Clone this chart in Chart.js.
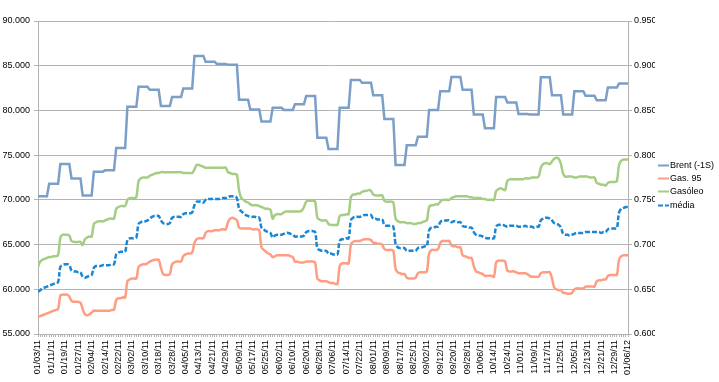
<!DOCTYPE html>
<html>
<head>
<meta charset="utf-8">
<script src="https://cdn.jsdelivr.net/npm/chart.js@4/dist/chart.umd.min.js"></script>
<style>
  html, body { margin: 0; padding: 0; background: #ffffff; }
  #wrap { width: 719px; height: 382px; }
</style>
</head>
<body>
<div id="wrap"><canvas id="c" width="719" height="382"></canvas></div>
<script>
// Tick labels shown on the x axis (every 6th business day)
const tickLabels = ['01/03/11','01/11/11','01/19/11','01/27/11','02/04/11','02/14/11','02/22/11','03/02/11','03/10/11','03/18/11','03/28/11','04/05/11','04/13/11','04/21/11','04/29/11','05/09/11','05/17/11','05/25/11','06/02/11','06/10/11','06/20/11','06/28/11','07/06/11','07/14/11','07/22/11','08/01/11','08/09/11','08/17/11','08/25/11','09/02/11','09/12/11','09/20/11','09/28/11','10/06/11','10/14/11','10/24/11','11/01/11','11/09/11','11/17/11','11/25/11','12/05/11','12/13/11','12/21/11','12/29/11','01/06/12'];
const labelEvery = 6;

const seriesNames = ['Brent (-1S)', 'Gas. 95', 'Gasóleo', 'média'];

// Daily values (business days), one row per week
const brent = [
70.4,70.4,70.4,70.4,70.4,
71.8,71.8,71.8,71.8,71.8,
74.0,74.0,74.0,74.0,74.0,
72.4,72.4,72.4,72.4,72.4,
70.5,70.5,70.5,70.5,70.5,
73.15,73.15,73.15,73.15,73.15,
73.3,73.3,73.3,73.3,73.3,
75.8,75.8,75.8,75.8,75.8,
80.4,80.4,80.4,80.4,80.4,
82.65,82.65,82.65,82.65,82.65,
82.3,82.3,82.3,82.3,82.3,
80.5,80.5,80.5,80.5,80.5,
81.5,81.5,81.5,81.5,81.5,
82.45,82.45,82.45,82.45,82.45,
86.1,86.1,86.1,86.1,86.1,
85.45,85.45,85.45,85.45,85.45,
85.2,85.2,85.2,85.2,85.2,
85.1,85.1,85.1,85.1,85.1,
81.2,81.2,81.2,81.2,81.2,
80.1,80.1,80.1,80.1,80.1,
78.75,78.75,78.75,78.75,78.75,
80.3,80.3,80.3,80.3,80.3,
80.05,80.05,80.05,80.05,80.05,
80.7,80.7,80.7,80.7,80.7,
81.6,81.6,81.6,81.6,81.6,
76.95,76.95,76.95,76.95,76.95,
75.7,75.7,75.7,75.7,75.7,
80.3,80.3,80.3,80.3,80.3,
83.4,83.4,83.4,83.4,83.4,
83.1,83.1,83.1,83.1,83.1,
81.7,81.7,81.7,81.7,81.7,
79.05,79.05,79.05,79.05,79.05,
73.9,73.9,73.9,73.9,73.9,
76.1,76.1,76.1,76.1,76.1,
77.05,77.05,77.05,77.05,77.05,
80.05,80.05,80.05,80.05,80.05,
82.15,82.15,82.15,82.15,82.15,
83.75,83.75,83.75,83.75,83.75,
82.3,82.3,82.3,82.3,82.3,
79.55,79.55,79.55,79.55,79.55,
78.0,78.0,78.0,78.0,78.0,
81.5,81.5,81.5,81.5,81.5,
80.9,80.9,80.9,80.9,80.9,
79.6,79.6,79.6,79.6,79.6,
79.55,79.55,79.55,79.55,79.55,
83.7,83.7,83.7,83.7,83.7,
81.7,81.7,81.7,81.7,81.7,
79.55,79.55,79.55,79.55,79.55,
82.15,82.15,82.15,82.15,82.15,
81.65,81.65,81.65,81.65,81.65,
81.15,81.15,81.15,81.15,81.15,
82.55,82.55,82.55,82.55,82.55,
83.0,83.0,83.0,83.0,83.0
];

const gas95 = [
0.619,0.620,0.621,0.622,0.623,
0.624,0.625,0.626,0.627,0.628,
0.643,0.644,0.644,0.644,0.642,
0.637,0.636,0.636,0.636,0.635,
0.628,0.622,0.621,0.622,0.624,
0.626,0.626,0.626,0.626,0.626,
0.626,0.626,0.626,0.627,0.627,
0.638,0.640,0.640,0.641,0.641,
0.659,0.661,0.662,0.662,0.662,
0.675,0.677,0.678,0.678,0.679,
0.681,0.682,0.683,0.683,0.683,
0.674,0.667,0.666,0.666,0.667,
0.678,0.680,0.681,0.681,0.681,
0.687,0.689,0.690,0.690,0.691,
0.702,0.706,0.707,0.707,0.707,
0.713,0.715,0.715,0.715,0.716,
0.716,0.716,0.717,0.717,0.717,
0.725,0.729,0.730,0.729,0.727,
0.719,0.718,0.718,0.718,0.718,
0.718,0.717,0.717,0.717,0.716,
0.697,0.694,0.692,0.690,0.689,
0.686,0.687,0.688,0.688,0.688,
0.688,0.688,0.688,0.687,0.686,
0.681,0.681,0.680,0.680,0.680,
0.681,0.681,0.681,0.681,0.680,
0.662,0.660,0.659,0.659,0.659,
0.658,0.657,0.657,0.656,0.656,
0.676,0.679,0.679,0.679,0.679,
0.700,0.703,0.704,0.704,0.704,
0.705,0.706,0.706,0.706,0.705,
0.702,0.702,0.701,0.701,0.700,
0.695,0.694,0.694,0.694,0.693,
0.673,0.669,0.668,0.667,0.667,
0.663,0.662,0.662,0.662,0.663,
0.668,0.669,0.669,0.669,0.670,
0.690,0.694,0.694,0.694,0.695,
0.702,0.704,0.704,0.704,0.704,
0.699,0.698,0.698,0.697,0.697,
0.688,0.687,0.686,0.685,0.685,
0.676,0.670,0.669,0.668,0.667,
0.665,0.665,0.665,0.665,0.664,
0.680,0.682,0.682,0.682,0.681,
0.671,0.670,0.670,0.670,0.669,
0.668,0.668,0.668,0.668,0.667,
0.665,0.664,0.664,0.664,0.664,
0.668,0.669,0.669,0.669,0.669,
0.662,0.652,0.650,0.649,0.649,
0.646,0.646,0.645,0.645,0.646,
0.650,0.651,0.651,0.651,0.651,
0.653,0.653,0.653,0.653,0.653,
0.659,0.660,0.660,0.661,0.661,
0.665,0.666,0.666,0.666,0.666,
0.683,0.687,0.688,0.688,0.688
];

const gasoleo = [
0.675,0.681,0.683,0.684,0.685,
0.686,0.686,0.687,0.687,0.688,
0.708,0.711,0.711,0.711,0.710,
0.704,0.703,0.703,0.703,0.703,
0.6995,0.706,0.708,0.709,0.709,
0.723,0.725,0.726,0.726,0.726,
0.727,0.728,0.729,0.729,0.729,
0.740,0.742,0.743,0.743,0.743,
0.750,0.752,0.752,0.752,0.753,
0.771,0.774,0.775,0.775,0.775,
0.777,0.778,0.779,0.780,0.780,
0.781,0.781,0.781,0.781,0.781,
0.781,0.781,0.781,0.781,0.781,
0.780,0.780,0.780,0.780,0.780,
0.784,0.789,0.789,0.788,0.787,
0.786,0.786,0.786,0.786,0.786,
0.786,0.786,0.786,0.786,0.786,
0.781,0.780,0.779,0.779,0.778,
0.760,0.752,0.750,0.748,0.747,
0.745,0.744,0.744,0.744,0.743,
0.742,0.741,0.740,0.740,0.739,
0.729,0.733,0.734,0.734,0.734,
0.736,0.737,0.737,0.737,0.737,
0.737,0.737,0.737,0.738,0.742,
0.748,0.749,0.749,0.749,0.748,
0.730,0.728,0.727,0.727,0.727,
0.723,0.722,0.722,0.722,0.722,
0.732,0.733,0.733,0.734,0.734,
0.753,0.756,0.756,0.757,0.757,
0.759,0.760,0.760,0.761,0.760,
0.756,0.755,0.755,0.755,0.755,
0.749,0.748,0.748,0.748,0.747,
0.729,0.726,0.725,0.725,0.725,
0.724,0.724,0.724,0.723,0.723,
0.724,0.724,0.725,0.726,0.727,
0.742,0.744,0.744,0.745,0.745,
0.748,0.750,0.750,0.750,0.750,
0.752,0.753,0.754,0.754,0.754,
0.754,0.754,0.754,0.753,0.753,
0.752,0.752,0.752,0.752,0.751,
0.751,0.750,0.750,0.750,0.750,
0.760,0.762,0.763,0.762,0.761,
0.771,0.773,0.773,0.773,0.773,
0.773,0.773,0.773,0.774,0.774,
0.774,0.775,0.775,0.775,0.776,
0.786,0.790,0.791,0.791,0.790,
0.793,0.796,0.797,0.796,0.790,
0.779,0.776,0.776,0.776,0.776,
0.775,0.775,0.776,0.776,0.776,
0.776,0.776,0.775,0.775,0.775,
0.769,0.768,0.767,0.767,0.766,
0.769,0.770,0.770,0.770,0.771,
0.789,0.794,0.795,0.795,0.795
];

const media = [
0.647,0.649,0.651,0.652,0.653,
0.654,0.655,0.656,0.657,0.658,
0.675,0.677,0.678,0.678,0.677,
0.671,0.670,0.670,0.669,0.669,
0.664,0.663,0.664,0.665,0.666,
0.674,0.676,0.676,0.676,0.677,
0.677,0.677,0.677,0.678,0.678,
0.689,0.691,0.692,0.692,0.692,
0.705,0.707,0.707,0.707,0.708,
0.723,0.725,0.726,0.726,0.727,
0.729,0.731,0.732,0.732,0.732,
0.727,0.724,0.723,0.723,0.724,
0.730,0.731,0.731,0.731,0.731,
0.734,0.735,0.735,0.735,0.736,
0.744,0.748,0.748,0.748,0.747,
0.750,0.751,0.751,0.751,0.751,
0.751,0.751,0.752,0.752,0.752,
0.753,0.754,0.754,0.754,0.752,
0.740,0.737,0.735,0.733,0.732,
0.731,0.731,0.731,0.730,0.730,
0.719,0.717,0.715,0.714,0.713,
0.708,0.710,0.711,0.711,0.711,
0.712,0.713,0.713,0.712,0.711,
0.709,0.709,0.709,0.709,0.710,
0.714,0.715,0.715,0.715,0.714,
0.696,0.694,0.693,0.693,0.693,
0.690,0.690,0.689,0.689,0.689,
0.704,0.706,0.706,0.707,0.707,
0.727,0.730,0.731,0.731,0.731,
0.732,0.733,0.733,0.733,0.733,
0.729,0.729,0.728,0.728,0.728,
0.722,0.721,0.721,0.721,0.720,
0.701,0.697,0.696,0.696,0.696,
0.693,0.693,0.693,0.693,0.693,
0.696,0.697,0.697,0.698,0.698,
0.716,0.719,0.719,0.720,0.720,
0.725,0.727,0.727,0.727,0.727,
0.725,0.726,0.726,0.725,0.725,
0.721,0.720,0.720,0.719,0.719,
0.714,0.711,0.710,0.710,0.709,
0.708,0.707,0.707,0.707,0.707,
0.720,0.722,0.722,0.722,0.721,
0.720,0.721,0.721,0.721,0.721,
0.720,0.720,0.720,0.721,0.720,
0.720,0.720,0.719,0.720,0.720,
0.727,0.729,0.730,0.730,0.729,
0.727,0.724,0.723,0.722,0.719,
0.712,0.711,0.711,0.710,0.711,
0.712,0.713,0.713,0.713,0.713,
0.714,0.714,0.714,0.714,0.714,
0.714,0.714,0.713,0.714,0.714,
0.717,0.718,0.718,0.718,0.718,
0.736,0.740,0.741,0.742,0.742
];

const leftTicks = { min: 55, max: 90, step: 5 };
const rightTicks = { min: 0.6, max: 0.95, step: 0.05 };

// ---- build chart ----
const FONT = '"Liberation Sans", Arial, sans-serif';
const GRID = '#b3b3b3';
const toPoints = arr => arr.map((v, i) => ({ x: i, y: v }));

const sideLegend = {
  id: 'sideLegend',
  afterDraw(chart) {
    const { ctx, chartArea } = chart;
    const x0 = chart.scales.y1.right + 3;
    const yMid = (chartArea.top + chartArea.bottom) / 2;
    ctx.save();
    ctx.font = '9px ' + FONT;
    ctx.textBaseline = 'middle';
    ctx.textAlign = 'left';
    chart.data.datasets.forEach((ds, i) => {
      const y = Math.round(yMid - 12.5 + i * 13.2) + 0.5;
      ctx.strokeStyle = ds.borderColor;
      ctx.lineWidth = 2;
      ctx.setLineDash(ds.borderDash || []);
      ctx.beginPath();
      ctx.moveTo(x0, y);
      ctx.lineTo(x0 + 11, y);
      ctx.stroke();
      ctx.setLineDash([]);
      ctx.fillStyle = '#000';
      ctx.fillText(ds.label, x0 + 12, y);
    });
    ctx.restore();
  }
};

new Chart(document.getElementById('c'), {
  type: 'line',
  data: {
    datasets: [
      { label: seriesNames[0], data: toPoints(brent), yAxisID: 'y', borderColor: '#7c9fc8', borderWidth: 2.5, tension: 0, pointRadius: 0 },
      { label: seriesNames[1], data: toPoints(gas95), yAxisID: 'y1', borderColor: '#ff9d82', borderWidth: 2.5, tension: 0.4, pointRadius: 0 },
      { label: seriesNames[2], data: toPoints(gasoleo), yAxisID: 'y1', borderColor: '#a6cd84', borderWidth: 2.5, tension: 0.4, pointRadius: 0 },
      { label: seriesNames[3], data: toPoints(media), yAxisID: 'y1', borderColor: '#1a86d4', borderWidth: 2.5, borderDash: [5, 2], tension: 0.4, pointRadius: 0 }
    ]
  },
  options: {
    responsive: false,
    animation: false,
    devicePixelRatio: 1,
    layout: { padding: { top: 21, right: 64, bottom: 0, left: 0 } },
    plugins: { legend: { display: false }, tooltip: { enabled: false } },
    scales: {
      x: {
        type: 'linear',
        min: 0,
        max: tickLabels.length * labelEvery - labelEvery,
        afterFit: s => { s.height = 48; },
        ticks: {
          stepSize: 1,
          autoSkip: false,
          minRotation: 90,
          maxRotation: 90,
          padding: 3,
          color: '#000',
          font: { family: FONT, size: 9 },
          callback: v => (v % labelEvery === 0 ? tickLabels[v / labelEvery] : '')
        },
        grid: { drawOnChartArea: false, color: GRID, tickLength: 3 },
        border: { color: GRID }
      },
      y: {
        position: 'left',
        min: leftTicks.min,
        max: leftTicks.max,
        afterFit: s => { s.width = 38; },
        ticks: {
          stepSize: leftTicks.step,
          padding: 4,
          color: '#000',
          font: { family: FONT, size: 9 },
          callback: v => v.toFixed(3)
        },
        grid: { color: GRID, tickLength: 4 },
        border: { color: GRID }
      },
      y1: {
        position: 'right',
        min: rightTicks.min,
        max: rightTicks.max,
        afterFit: s => { s.width = 27; },
        ticks: {
          stepSize: rightTicks.step,
          padding: 2,
          color: '#000',
          font: { family: FONT, size: 9 },
          callback: v => v.toFixed(3)
        },
        grid: { drawOnChartArea: false, color: GRID, tickLength: 4 },
        border: { color: GRID }
      }
    }
  },
  plugins: [sideLegend]
});
</script>
</body>
</html>
